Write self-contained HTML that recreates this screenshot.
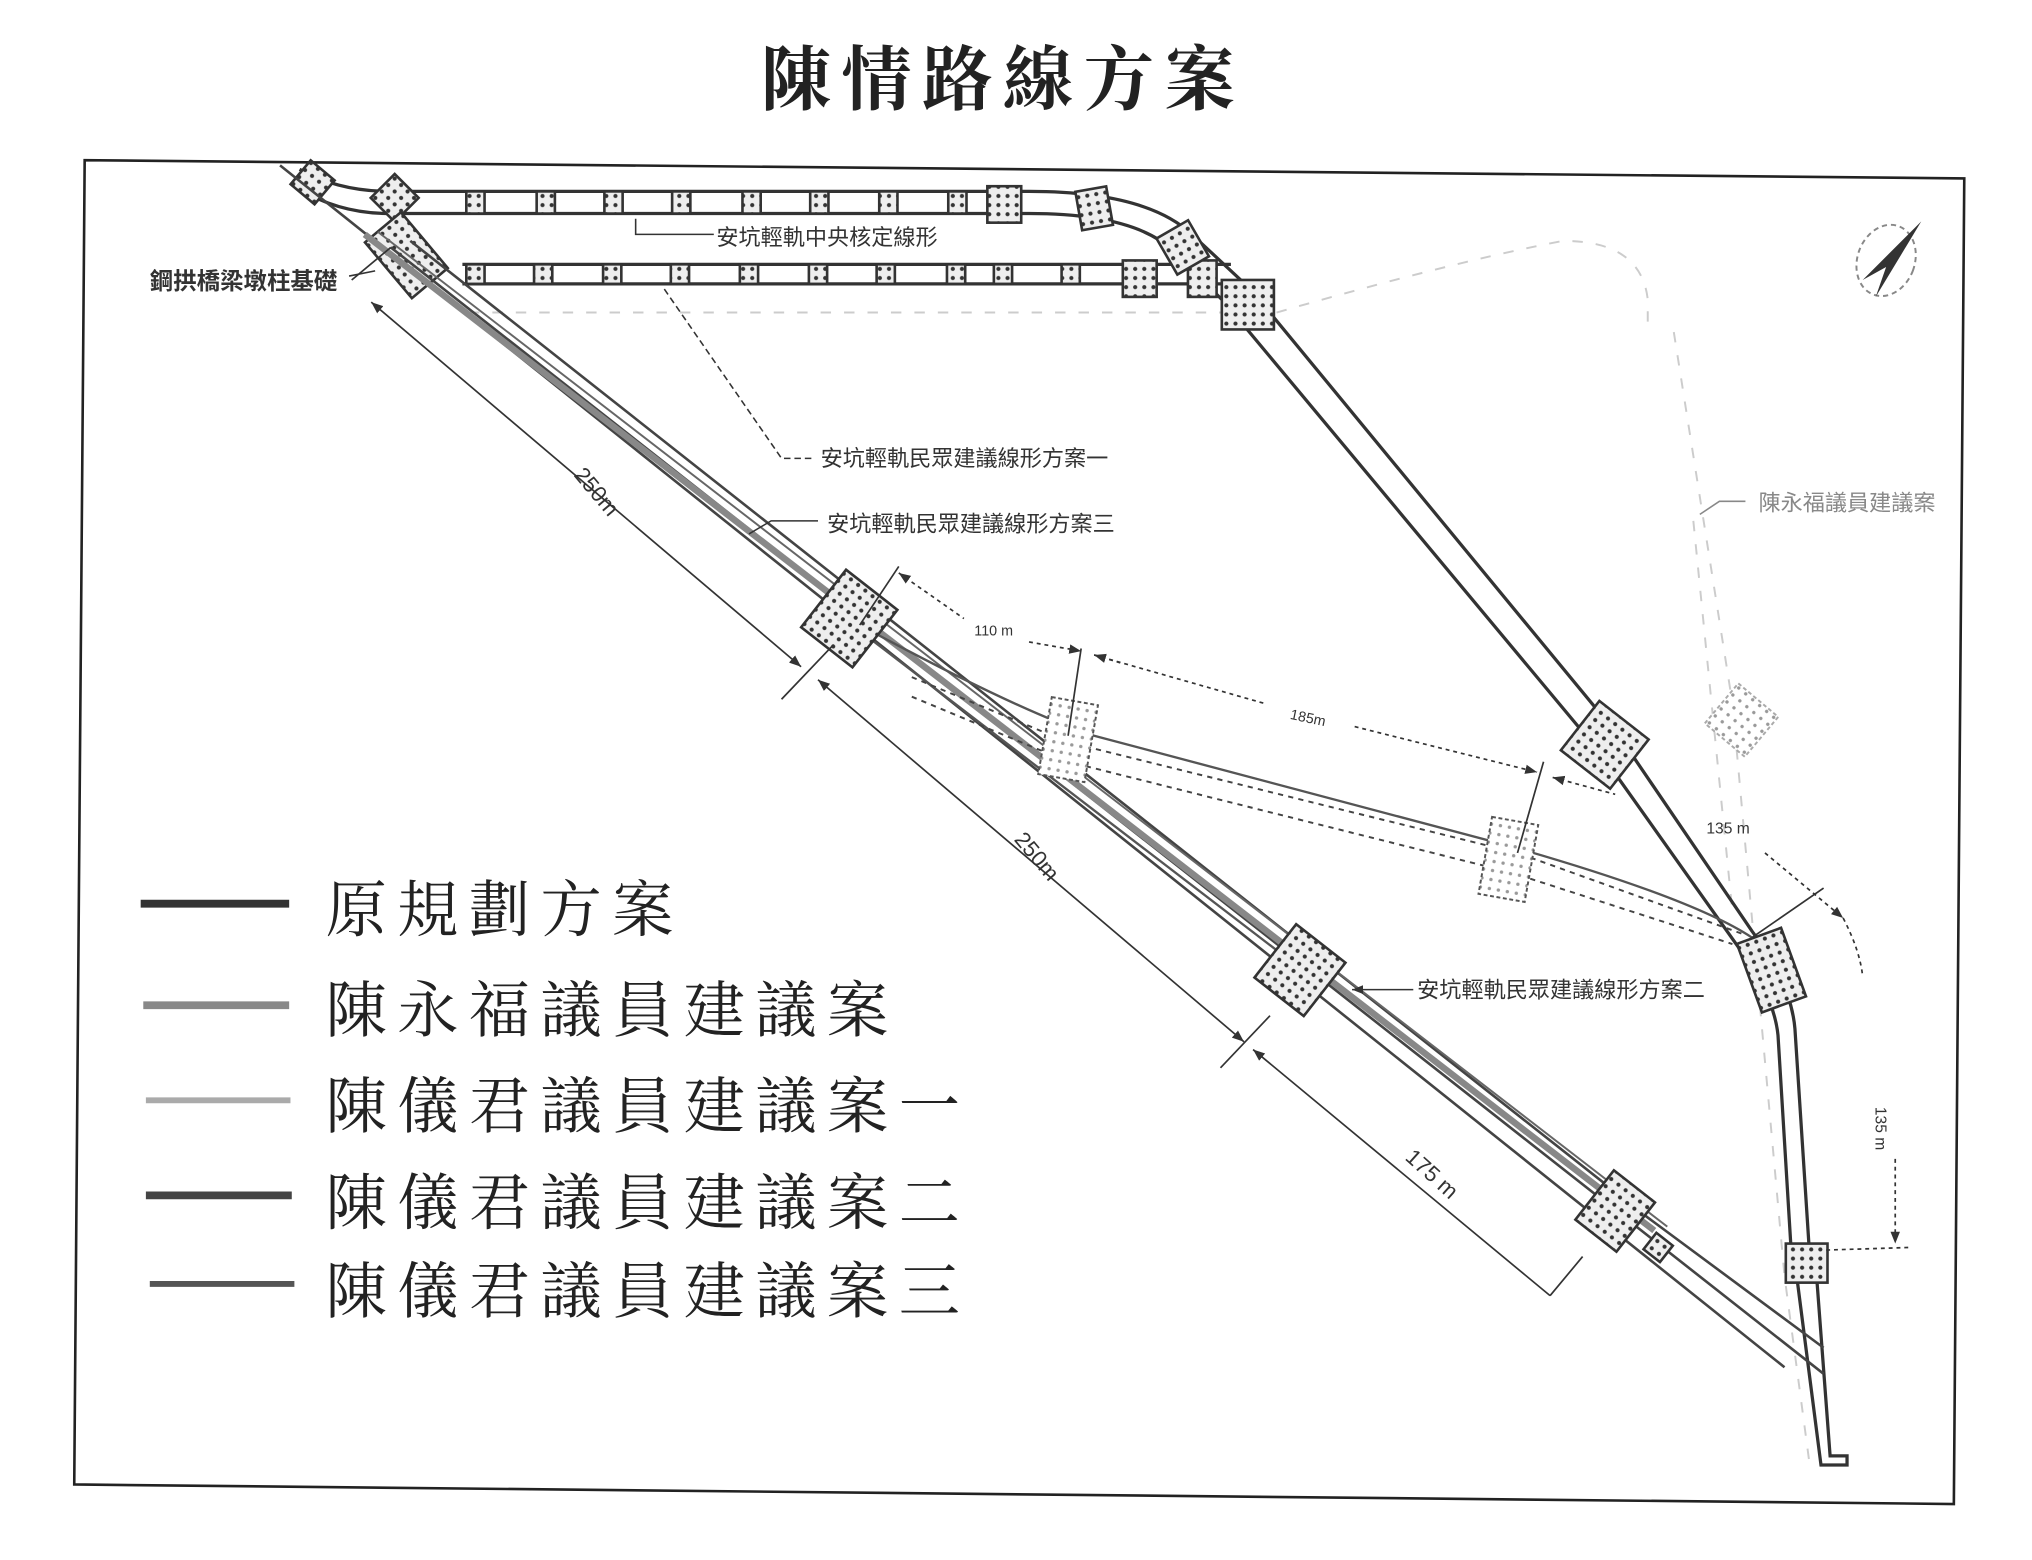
<!DOCTYPE html>
<html><head><meta charset="utf-8"><style>
html,body{margin:0;padding:0;background:#fff;}
svg{display:block;}
.t{font-family:"Liberation Sans","Noto Sans CJK TC",sans-serif;fill:#333;}
.lg{font-family:"Liberation Serif","Noto Serif CJK SC",serif;fill:#222;font-size:47px;letter-spacing:8px;}
</style></head><body>
<svg width="2032" height="1560" viewBox="0 0 1560 1198" preserveAspectRatio="none" xmlns="http://www.w3.org/2000/svg">
<defs>
<pattern id="d" width="7" height="7" patternUnits="userSpaceOnUse"><rect width="7" height="7" fill="#eee"/><circle cx="3.5" cy="3.5" r="1.6" fill="#333"/></pattern>
<pattern id="dl" width="7" height="7" patternUnits="userSpaceOnUse"><rect width="7" height="7" fill="#fff"/><circle cx="3.5" cy="3.5" r="1.3" fill="#999"/></pattern>
<marker id="ar" viewBox="0 0 10 10" refX="10" refY="5" markerWidth="7" markerHeight="7" orient="auto-start-reverse"><path d="M0,1 L10,5 L0,9 z" fill="#333"/></marker>
</defs>
<rect width="1560" height="1198" fill="#fff"/>
<text x="770" y="80" text-anchor="middle" font-family="'Liberation Serif','Noto Serif CJK SC',serif" font-size="54" font-weight="bold" letter-spacing="8" fill="#222">陳情路線方案</text>
<path d="M65,123 L1508,137 L1500,1155 L57,1140 Z" fill="none" stroke="#222" stroke-width="2"/>

<g stroke="#ccc" stroke-width="1.5" stroke-dasharray="8 10" fill="none">
<path d="M360,240 L940,240"/><path d="M980,240 Q1120,200 1200,185 Q1260,185 1265,230 L1265,255"/>
<path d="M1285,255 L1330,540 L1370,980 L1390,1130"/>
<path d="M1300,400 L1330,700"/>
</g>

<g fill="none" stroke="#333" stroke-width="2.5">
<path d="M230,130 Q260,147 300,147 L790,147 Q880,147 915,180 L960,222 L1245,568 L1345,715 Q1375,755 1378,790 L1390,975"/>
<path d="M230,145 Q260,164 300,164 L790,164 Q870,164 900,192 L940,232 L1230,580 L1335,728 Q1362,765 1365,795 L1376,975"/>
<path d="M355,203 L945,203"/><path d="M355,218 L945,218"/>
<path d="M1380,985 L1398,1125 L1418,1125 L1418,1118 L1405,1118 L1395,985"/>
</g>
<g stroke="#333" stroke-width="2" fill="url(#d)">
<rect x="358" y="147" width="14" height="17"/><rect x="412" y="147" width="14" height="17"/><rect x="464" y="147" width="14" height="17"/><rect x="516" y="147" width="14" height="17"/><rect x="570" y="147" width="14" height="17"/><rect x="622" y="147" width="14" height="17"/><rect x="675" y="147" width="14" height="17"/><rect x="728" y="147" width="14" height="17"/>
<rect x="358" y="203" width="14" height="15"/><rect x="410" y="203" width="14" height="15"/><rect x="463" y="203" width="14" height="15"/><rect x="515" y="203" width="14" height="15"/><rect x="568" y="203" width="14" height="15"/><rect x="621" y="203" width="14" height="15"/><rect x="673" y="203" width="14" height="15"/><rect x="727" y="203" width="14" height="15"/><rect x="763" y="203" width="14" height="15"/><rect x="815" y="203" width="14" height="15"/>
<rect x="758" y="143" width="26" height="28"/><rect x="862" y="200" width="26" height="28"/><rect x="912" y="200" width="22" height="28"/>
<rect x="938" y="215" width="40" height="38"/>
</g>
<g stroke="#333" stroke-width="2" fill="url(#d)">
<rect x="-13" y="-13" width="26" height="26" transform="translate(303,152) rotate(45)"/>
<rect x="-12" y="-15" width="24" height="30" transform="translate(840,160) rotate(-10)"/>
<rect x="-14" y="-16" width="28" height="32" transform="translate(908,190) rotate(-30)"/>
<rect x="-12" y="-12" width="24" height="24" transform="translate(240,140) rotate(40)"/>
<rect x="-18" y="-28" width="36" height="56" transform="translate(312,196) rotate(-40)"/>
</g>

<g fill="none" stroke="#444" stroke-width="2">
<path d="M215,127 L1370,1050"/>
<path d="M300,190 L1400,1055"/>
<path d="M315,185 L1265,935 L1400,1035"/>
</g>
<path d="M280,180 L1270,945" fill="none" stroke="#888" stroke-width="5"/>
<path d="M290,178 L1280,942" fill="none" stroke="#666" stroke-width="1.5"/>
<g fill="none" stroke="#555" stroke-width="1.8">
<path d="M660,480 Q780,545 840,565 L1160,650 Q1300,690 1345,720"/>
<path d="M670,492 L1000,745"/>
</g>
<g fill="none" stroke="#444" stroke-width="1.5" stroke-dasharray="4 4">
<path d="M700,520 L820,570 L1165,655 L1340,718"/>
<path d="M700,535 L820,585 L1160,670 L1330,725"/>
</g>
<g stroke="#333" stroke-width="2" fill="url(#d)">
<rect x="-25" y="-28" width="50" height="56" transform="translate(652,475) rotate(38)"/>
<rect x="-24" y="-26" width="48" height="52" transform="translate(998,745) rotate(38)"/>
<rect x="-20" y="-24" width="40" height="48" transform="translate(1240,930) rotate(38)"/>
<rect x="-8" y="-8" width="16" height="16" transform="translate(1273,958) rotate(38)"/>
<rect x="-24" y="-24" width="48" height="48" transform="translate(1232,572) rotate(38)"/>
<rect x="-18" y="-28" width="36" height="56" transform="translate(1360,745) rotate(-20)"/>
<rect x="-16" y="-15" width="32" height="30" transform="translate(1387,970)"/>
</g>
<g stroke="#555" stroke-width="1.5" stroke-dasharray="3 2" fill="url(#dl)">
<rect x="-18" y="-30" width="36" height="60" transform="translate(820,568) rotate(10)"/>
<rect x="-18" y="-30" width="36" height="60" transform="translate(1158,660) rotate(10)"/>
<rect x="-20" y="-20" width="40" height="40" transform="translate(1337,553) rotate(40)" stroke="#aaa"/>
</g>

<g fill="none" stroke="#333" stroke-width="1.3">
<path d="M285,232 L615,512" marker-start="url(#ar)" marker-end="url(#ar)"/>
<path d="M628,522 L955,800" marker-start="url(#ar)" marker-end="url(#ar)"/>
<path d="M962,806 L1190,995" marker-start="url(#ar)"/>
<path d="M270,215 L300,190"/><path d="M600,537 L640,495"/><path d="M937,820 L975,780"/><path d="M1190,995 L1215,965"/>
<path d="M690,435 L660,480"/><path d="M830,498 L820,565"/><path d="M1185,585 L1165,655"/><path d="M1400,682 L1345,720"/>
</g>
<g fill="none" stroke="#333" stroke-width="1.3" stroke-dasharray="3 3">
<path d="M690,440 L740,475" marker-start="url(#ar)"/>
<path d="M790,493 L830,500" marker-end="url(#ar)"/>
<path d="M840,503 L970,540"/><path d="M1040,558 L1180,593" marker-end="url(#ar)"/><path d="M840,503 L860,509" marker-start="url(#ar)"/>
<path d="M1192,597 L1240,610" marker-start="url(#ar)"/>
<path d="M1355,655 L1415,705" marker-end="url(#ar)"/>
<path d="M1415,705 Q1428,730 1430,750"/>
<path d="M1455,890 L1455,955" marker-end="url(#ar)"/>
<path d="M1402,960 L1465,958"/>
</g>
<g class="t" font-size="12">
<text x="748" y="488" font-size="11">110 m</text>
<text x="990" y="552" font-size="11" transform="rotate(12 990 552)">185m</text>
<text x="1310" y="640" font-size="12">135 m</text>
<text x="1440" y="850" font-size="12" transform="rotate(90 1440 850)">135 m</text>
<text x="440" y="365" font-size="17" transform="rotate(50 440 365)">250m</text>
<text x="778" y="645" font-size="17" transform="rotate(50 778 645)">250m</text>
<text x="1078" y="890" font-size="17" transform="rotate(42 1078 890)">175 m</text>
</g>

<g fill="none" stroke="#333" stroke-width="1.2">
<path d="M488,168 L488,180 L548,180"/>
<path d="M268,212 L288,208"/>
<path d="M510,222 L600,352 L625,352" stroke-dasharray="5 3"/>
<path d="M575,410 L592,400 L628,400"/>
<path d="M1038,760 L1085,760" marker-start="url(#ar)"/>
<path d="M1305,395 L1320,385 L1340,385" stroke="#888"/>
</g>
<g class="t" font-size="17">
<text x="550" y="188">安坑輕軌中央核定線形</text>
<text x="115" y="222" font-weight="bold" font-size="18">鋼拱橋梁墩柱基礎</text>
<text x="630" y="358">安坑輕軌民眾建議線形方案一</text>
<text x="635" y="408">安坑輕軌民眾建議線形方案三</text>
<text x="1088" y="766">安坑輕軌民眾建議線形方案二</text>
<text x="1350" y="392" fill="#888">陳永福議員建議案</text>
</g>
<ellipse cx="1448" cy="200" rx="22" ry="28" fill="none" stroke="#888" stroke-width="1.5" stroke-dasharray="4 3" transform="rotate(20 1448 200)"/>
<path d="M1475,170 L1430,215 L1448,205 L1440,228 Z" fill="#333"/>

<g stroke-width="6">
<line x1="108" y1="694" x2="222" y2="694" stroke="#333"/>
<line x1="110" y1="772" x2="222" y2="772" stroke="#888"/>
<line x1="112" y1="845" x2="223" y2="845" stroke="#aaa" stroke-width="4.5"/>
<line x1="112" y1="918" x2="224" y2="918" stroke="#444"/>
<line x1="115" y1="986" x2="226" y2="986" stroke="#555" stroke-width="4.5"/>
</g>
<g class="lg">
<text x="250" y="715">原規劃方案</text>
<text x="250" y="792">陳永福議員建議案</text>
<text x="250" y="866">陳儀君議員建議案一</text>
<text x="250" y="940">陳儀君議員建議案二</text>
<text x="250" y="1008">陳儀君議員建議案三</text>
</g>
</svg>
</body></html>
